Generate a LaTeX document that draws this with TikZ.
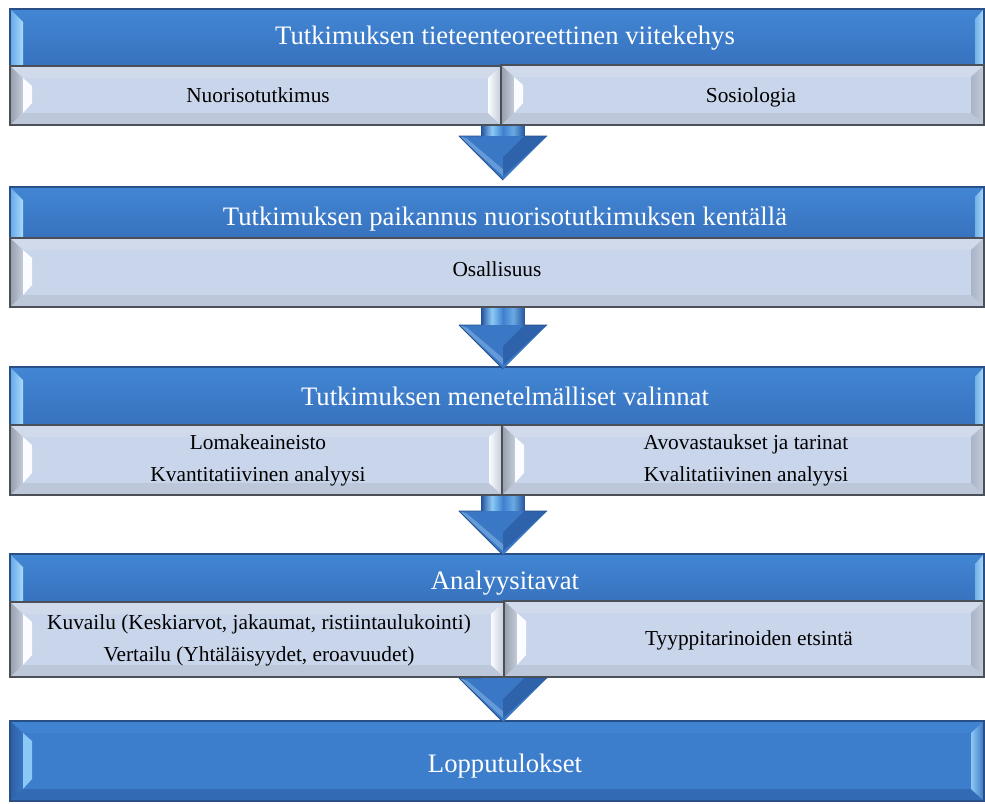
\documentclass[tikz,border=0pt]{standalone}
\usepackage{fontspec}
\setmainfont{Liberation Serif}
\usetikzlibrary{calc}
\definecolor{barTop}{RGB}{66,134,212}
\definecolor{barBot}{RGB}{55,114,190}
\definecolor{barEdge}{RGB}{40,80,135}
\definecolor{barStripL}{RGB}{100,168,232}
\definecolor{barStripR}{RGB}{170,218,250}
\definecolor{subFace}{RGB}{201,213,234}
\definecolor{subTop}{RGB}{209,218,235}
\definecolor{subBot}{RGB}{189,199,218}
\definecolor{subSideL}{RGB}{150,158,172}
\definecolor{subSideR}{RGB}{196,204,218}
\definecolor{subHi}{RGB}{250,252,255}
\definecolor{subRightD}{RGB}{170,180,200}
\definecolor{subEdge}{RGB}{75,80,88}
\definecolor{blFace}{RGB}{60,126,204}
\definecolor{blTop}{RGB}{64,131,208}
\definecolor{blBot}{RGB}{50,106,180}
\definecolor{blSideL}{RGB}{45,95,165}
\definecolor{blSideR}{RGB}{58,118,194}
\definecolor{blHi}{RGB}{140,200,245}
\definecolor{blEdge}{RGB}{40,80,135}
\definecolor{arrDark}{RGB}{40,88,160}
\definecolor{arrLight}{RGB}{140,202,246}
\definecolor{arrMid}{RGB}{62,128,206}
\definecolor{arrHead}{RGB}{58,119,196}
\definecolor{arrHeadD}{RGB}{46,98,170}
\definecolor{arrEdge}{RGB}{38,80,140}
\pgfdeclarehorizontalshading{shaftshade}{100bp}{color(0bp)=(arrDark); color(25bp)=(arrDark); color(37bp)=(arrLight); color(50bp)=(arrMid); color(62bp)=(arrLight!55!arrMid); color(75bp)=(arrDark); color(100bp)=(arrDark)}
\tikzset{
  titletext/.style={text=white, font=\fontsize{20}{24}\selectfont, inner sep=0pt, anchor=center},
  subtext/.style={text=black, font=\fontsize{16}{24}\selectfont, align=center, inner sep=0pt, anchor=center},
  subline/.style={subtext, text height=11pt, text depth=3.5pt},
}
% bevelled box: x1 y1 x2 y2 prefix rightcolour
\newcommand\bevbox[6]{%
  \fill[#5Face] (#1,#2) rectangle (#3,#4);
  \fill[#5Top] (#1,#2) -- (#3,#2) -- ({#3-13},{#2+12}) -- ({#1+13},{#2+12}) -- cycle;
  \fill[#5Bot] (#1,#4) -- (#3,#4) -- ({#3-13},{#4-12}) -- ({#1+13},{#4-12}) -- cycle;
  \shade[left color=#5SideL, right color=#5SideR] (#1,#2) -- ({#1+13},{#2+12}) -- ({#1+13},{#4-12}) -- (#1,#4) -- cycle;
  \fill[#5Hi] ({#1+13},{#2+12}) -- ({#1+22},{#2+20}) -- ({#1+22},{#4-22}) -- ({#1+13},{#4-12}) -- cycle;
  \shade[left color=#6, right color=#5SideR] (#3,#2) -- ({#3-13},{#2+12}) -- ({#3-13},{#4-12}) -- (#3,#4) -- cycle;
  \draw[#5Edge, line width=1.5pt] (#1,#2) rectangle (#3,#4);
}
% blue header bar: x1 y1 x2 y2
\newcommand\bluebar[4]{%
  \shade[top color=barTop, bottom color=barBot] (#1,#2) rectangle (#3,#4);
  \shade[left color=barStripL, right color=barStripR] (#1,#2) -- ({#1+13},{#2+13}) -- ({#1+13},#4) -- (#1,#4) -- cycle;
  \shade[left color=barStripR!50!barTop, right color=barStripR] ({#3-9},{#2+10}) -- (#3,#2) -- (#3,#4) -- ({#3-9},#4) -- cycle;
  \draw[barEdge, line width=1.2pt] (#1,#2) rectangle (#3,#4);
}
% block arrow from named coordinate #1 (top of shaft) to #2 (tip)
\newcommand\blockarrow[2]{%
  \shade[shading=shaftshade] let \p1=(#1), \p2=(#2) in (\x1-16pt,\y1) rectangle (\x1+16pt,\y2+33pt);
  \fill[arrHead] let \p2=(#2) in (\x2,\y2) -- (\x2-33pt,\y2+33pt) -- (\x2+33pt,\y2+33pt) -- cycle;
  \fill[arrHeadD] let \p2=(#2) in (\x2,\y2+3pt) -- (\x2+33pt,\y2+33pt) -- (\x2+16pt,\y2+33pt) -- (\x2,\y2+17pt) -- cycle;
  \fill[arrMid!80!white] let \p2=(#2) in (\x2,\y2+3pt) -- (\x2-33pt,\y2+33pt) -- (\x2-27pt,\y2+31pt) -- (\x2,\y2+8pt) -- cycle;
  \draw[arrEdge, line width=0.6pt, line join=round] let \p2=(#2) in (\x2,\y2) -- (\x2-33pt,\y2+33pt) -- (\x2-16pt,\y2+33pt) (\x2+16pt,\y2+33pt) -- (\x2+33pt,\y2+33pt) -- cycle;
}
\begin{document}
\begin{tikzpicture}[x=0.75pt, y=-0.75pt]
\useasboundingbox (0,0) rectangle (985,803);
% named arrow ends
\coordinate (a1top) at (503,118);
\coordinate (a1tip) at (503,180);
\coordinate (a2top) at (503,300);
\coordinate (a2tip) at (503,369);
\coordinate (a3top) at (503,488);
\coordinate (a3tip) at (503,555);
\coordinate (a4top) at (503,670);
\coordinate (a4tip) at (503,722);
% header bars
\bluebar{10}{9}{984}{66}
\bluebar{10}{187}{984}{238}
\bluebar{10}{367}{984}{425}
\bluebar{10}{554}{984}{602}
\bevbox{10}{721}{984}{801}{bl}{blHi}
% arrows
\blockarrow{a1top}{a1tip}
\blockarrow{a2top}{a2tip}
\blockarrow{a3top}{a3tip}
\blockarrow{a4top}{a4tip}
% sub boxes
\bevbox{10}{66}{501}{125}{sub}{subHi}
\bevbox{501}{65}{984}{125}{sub}{subRightD}
\bevbox{10}{238}{984}{307}{sub}{subRightD}
\bevbox{10}{425}{502}{495}{sub}{subHi}
\bevbox{502}{425}{984}{495}{sub}{subRightD}
\bevbox{10}{602}{504}{677}{sub}{subHi}
\bevbox{504}{601}{984}{677}{sub}{subRightD}
% texts
\node[titletext] (t1) at (505,38) {Tutkimuksen tieteenteoreettinen viitekehys};
\node[subline] (s1a) at (258,97) {Nuorisotutkimus};
\node[subline] (s1b) at (751,97) {Sosiologia};
\node[titletext] (t2) at (505,219) {Tutkimuksen paikannus nuorisotutkimuksen kentällä};
\node[subline] (s2) at (497,271) {Osallisuus};
\node[titletext] (t3) at (505,396) {Tutkimuksen menetelmälliset valinnat};
\node[subtext] (s3a) at (258,460) {Lomakeaineisto\\Kvantitatiivinen analyysi};
\node[subtext] (s3b) at (746,460) {Avovastaukset ja tarinat\\Kvalitatiivinen analyysi};
\node[titletext] (t4) at (505,583) {Analyysitavat};
\node[subtext] (s4a) at (259,640) {Kuvailu (Keskiarvot, jakaumat, ristiintaulukointi)\\Vertailu (Yhtäläisyydet, eroavuudet)};
\node[subline] (s4b) at (749,640) {Tyyppitarinoiden etsintä};
\node[titletext] (t5) at (505,766) {Lopputulokset};
\end{tikzpicture}
\end{document}
